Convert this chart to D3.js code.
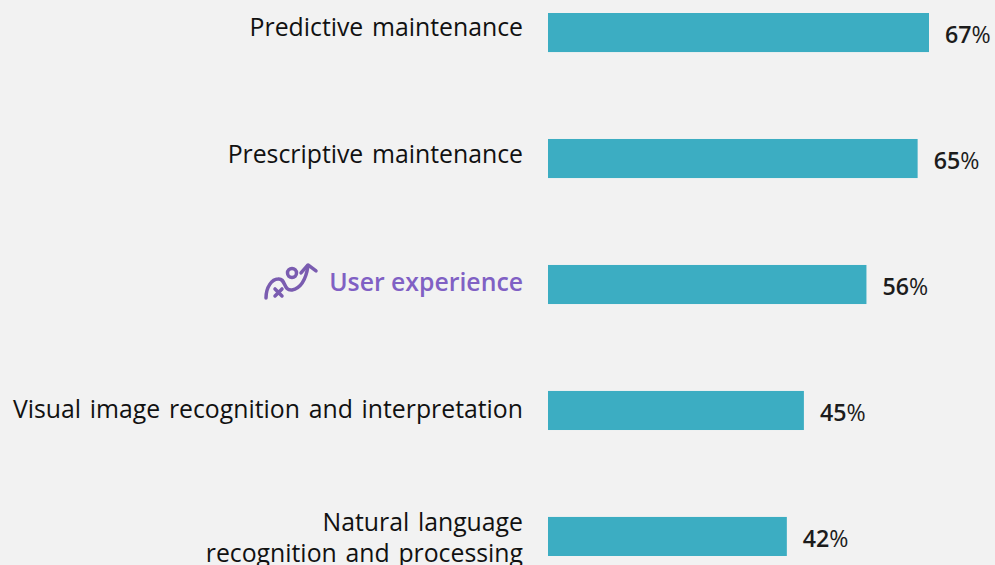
<!DOCTYPE html>
<html><head><meta charset="utf-8">
<script src="https://cdn.jsdelivr.net/npm/d3@7"></script>
<style>html,body{margin:0;padding:0;background:#f2f2f2}svg{display:block}</style>
</head><body><svg id="c" width="995" height="565"></svg>
<script>
const categories = [["Predictive maintenance"],["Prescriptive maintenance"],["User experience"],["Visual image recognition and interpretation"],["Natural language","recognition and processing"]];
const values = [67,65,56,45,42];
const highlighted = ["User experience"];
const font = "'Open Sans', sans-serif";
const svg = d3.select("#c");
const x = d3.scaleLinear().domain([0,67]).range([548,929]);
const keys = categories.map(d=>d.join(" "));
const y = d3.scaleBand().domain(keys).range([13,556]).paddingInner(0.69).paddingOuter(0);
const labelY = d3.scalePoint().domain(keys).range([35.5,546]);
const rows = svg.selectAll("g.r").data(categories.map((c,i)=>({c,v:values[i],k:keys[i]}))).join("g").attr("class","r");
rows.append("rect").attr("x",x(0)).attr("y",d=>y(d.k)).attr("width",d=>x(d.v)-x(0)).attr("height",y.bandwidth()).attr("fill","#3cadc2");
rows.append("text").attr("x",d=>x(d.v)+16).attr("y",d=>y(d.k)+y.bandwidth()/2+10.8).attr("font-family",font).attr("font-size",23.2).attr("fill","#1c1c1c")
 .each(function(d){const t=d3.select(this);t.append("tspan").attr("font-weight",600).text(d.v);t.append("tspan").text("%");});
rows.each(function(d){
  const hi=highlighted.includes(d.k);
  const g=d3.select(this);
  d.c.forEach((line,i)=>{
    const base=labelY(d.k)+(d.c.length>1?-15.5+i*31:0);
    g.append("text").attr("x",523).attr("y",base).attr("text-anchor","end").attr("font-family",font).attr("font-size",24.8)
     .attr("word-spacing",hi?0:2.3).attr("font-weight",hi?600:400).attr("fill",hi?"#8060c4":"#111").text(line);
  });
});
const yU=y("User experience");
const icon=svg.append("g").attr("transform",`translate(264,${yU-3})`).attr("fill","none").attr("stroke","#7a5cb0").attr("stroke-width",3.5).attr("stroke-linecap","round").attr("stroke-linejoin","round");
icon.append("path").attr("d","M2 36C2 25 8 17 14 17C22 16 19 29 28 28C38 26 42 17 44 4");
icon.append("path").attr("d","M37 11L44 3L52 9");
icon.append("circle").attr("cx",28).attr("cy",11).attr("r",4.5);
icon.append("path").attr("d","M11 27L18 34M18 27L11 34");
</script></body></html>
